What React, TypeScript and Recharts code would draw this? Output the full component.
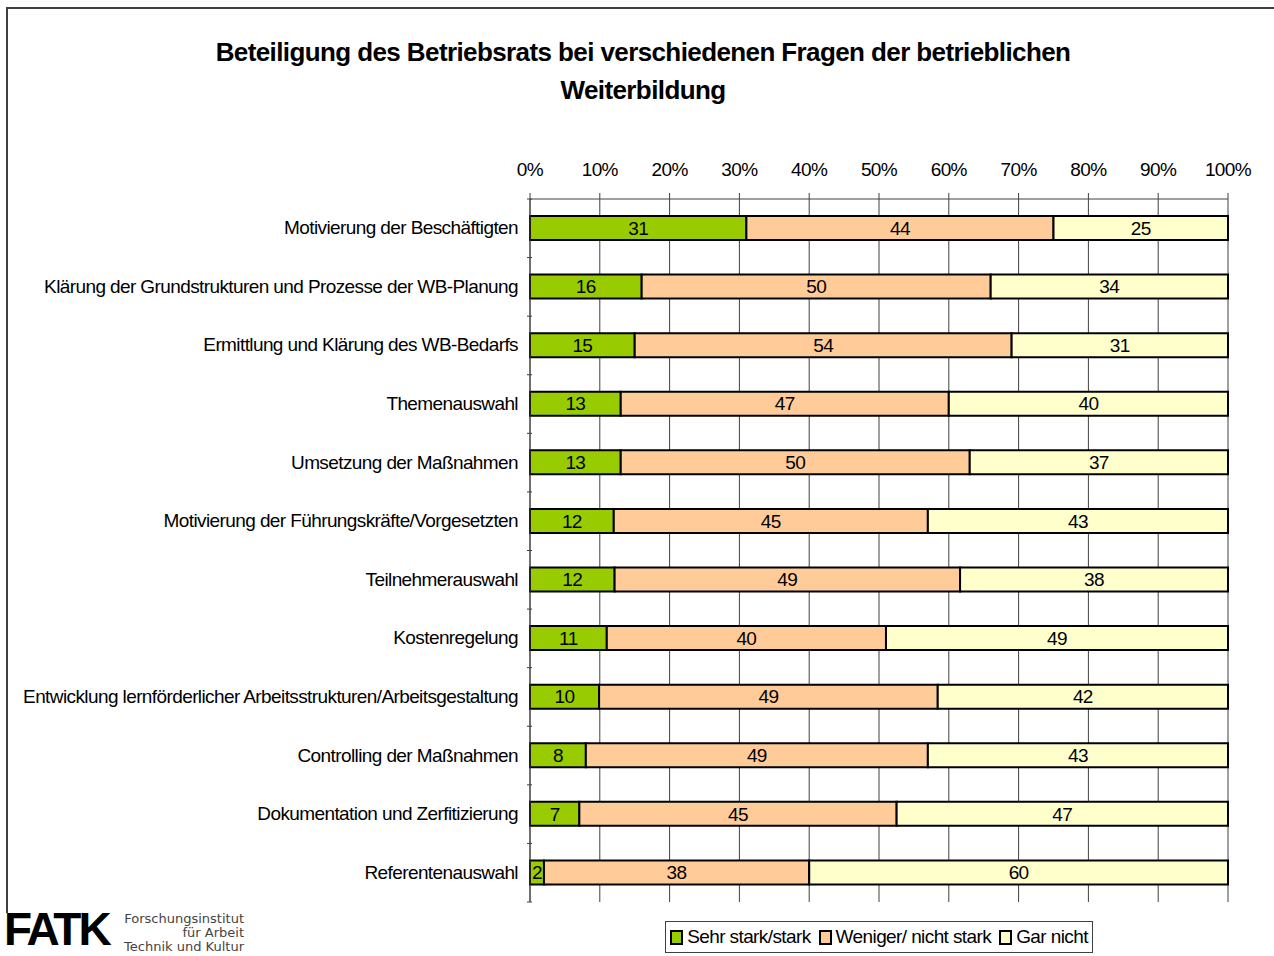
import React from "react";
import { BarChart, Bar, XAxis, YAxis, CartesianGrid, LabelList } from "recharts";

const categories = [
  "Motivierung der Beschäftigten",
  "Klärung der Grundstrukturen und Prozesse der WB-Planung",
  "Ermittlung und Klärung des WB-Bedarfs",
  "Themenauswahl",
  "Umsetzung der Maßnahmen",
  "Motivierung der Führungskräfte/Vorgesetzten",
  "Teilnehmerauswahl",
  "Kostenregelung",
  "Entwicklung lernförderlicher Arbeitsstrukturen/Arbeitsgestaltung",
  "Controlling der Maßnahmen",
  "Dokumentation und Zerfitizierung",
  "Referentenauswahl",
];
const sehrStark = [31, 16, 15, 13, 13, 12, 12, 11, 10, 8, 7, 2];
const wenigerStark = [44, 50, 54, 47, 50, 45, 49, 40, 49, 49, 45, 38];
const garNicht = [25, 34, 31, 40, 37, 43, 38, 49, 42, 43, 47, 60];
const percentTicks = [0, 0.1, 0.2, 0.3, 0.4, 0.5, 0.6, 0.7, 0.8, 0.9, 1];

const series = [
  { key: "sehr", name: "Sehr stark/stark", color: "#99CC00" },
  { key: "weniger", name: "Weniger/ nicht stark", color: "#FFCC99" },
  { key: "gar", name: "Gar nicht", color: "#FFFFCC" },
];

const data = categories.map((name, i) => ({
  name,
  sehr: sehrStark[i],
  weniger: wenigerStark[i],
  gar: garNicht[i],
}));

const font = "'Liberation Sans', Arial, sans-serif";

function CategoryTick(props: any) {
  const { x, y, payload, index } = props;
  const half = payload?.offset ?? 29.3;
  return (
    <g>
      <line x1={x + 5} x2={x + 10} y1={y - half} y2={y - half} stroke="#404040" />
      {index === categories.length - 1 && (
        <line x1={x + 5} x2={x + 10} y1={y + half} y2={y + half} stroke="#404040" />
      )}
      <text
        x={x - 4}
        y={y}
        dy={6}
        textAnchor="end"
        fontSize={19}
        letterSpacing={-0.6}
        fontFamily={font}
        fill="#000"
      >
        {payload.value}
      </text>
    </g>
  );
}

export default function App() {
  return (
    <div
      style={{
        position: "absolute",
        left: 0,
        top: 0,
        width: 1274,
        height: 956,
        background: "#fff",
        fontFamily: font,
        overflow: "hidden",
      }}
    >
      <div
        style={{
          position: "absolute",
          left: 6,
          top: 7,
          width: 1280,
          height: 904,
          borderTop: "2px solid #404040",
          borderLeft: "2px solid #404040",
        }}
      />
      <div
        style={{
          position: "absolute",
          left: 0,
          top: 33,
          width: 1286,
          textAlign: "center",
          fontWeight: "bold",
          fontSize: 26,
          letterSpacing: -0.6,
          lineHeight: "38px",
          color: "#000",
        }}
      >
        Beteiligung des Betriebsrats bei verschiedenen Fragen der betrieblichen
        <br />
        Weiterbildung
      </div>
      <div style={{ position: "absolute", left: 0, top: 0 }}>
        <BarChart
          width={1274}
          height={956}
          data={data}
          layout="vertical"
          stackOffset="expand"
          barSize={24}
          margin={{ top: 150, right: 46, bottom: 54, left: 10 }}
        >
          <CartesianGrid horizontal={false} stroke="#404040" strokeOpacity={1} />
          <XAxis
            type="number"
            orientation="top"
            domain={[0, 1]}
            ticks={percentTicks}
            tickFormatter={(v: number) => `${Math.round(v * 100)}%`}
            height={49}
            axisLine={{ stroke: "#404040" }}
            tickLine={{ stroke: "#404040" }}
            tickSize={6}
            tickMargin={17}
            tick={{ fontSize: 19, fill: "#000", fontFamily: font, letterSpacing: -0.6 }}
            interval={0}
          />
          <YAxis
            type="category"
            dataKey="name"
            width={520}
            axisLine={{ stroke: "#404040" }}
            tickLine={false}
            tick={<CategoryTick />}
            interval={0}
          />
          {series.map((s) => (
            <Bar
              key={s.key}
              dataKey={s.key}
              name={s.name}
              stackId="a"
              fill={s.color}
              stroke="#000"
              strokeWidth={2}
              isAnimationActive={false}
            >
              <LabelList
                dataKey={s.key}
                position="center"
                fill="#000"
                fontSize={19}
                fontFamily={font}
                letterSpacing={-0.6}
              />
            </Bar>
          ))}
        </BarChart>
      </div>
      <div
        style={{
          position: "absolute",
          left: 665,
          top: 921,
          width: 428,
          height: 32,
          border: "1px solid #404040",
          boxSizing: "border-box",
          display: "flex",
          alignItems: "center",
          justifyContent: "center",
          fontSize: 19,
          letterSpacing: -0.6,
          gap: 8,
          color: "#000",
        }}
      >
        {series.map((s) => (
          <span key={s.key} style={{ display: "flex", alignItems: "center" }}>
            <span
              style={{
                display: "inline-block",
                width: 9,
                height: 11,
                background: s.color,
                border: "2px solid #000",
                marginRight: 4,
              }}
            />
            {s.name}
          </span>
        ))}
      </div>
      <div
        style={{
          position: "absolute",
          left: 4,
          top: 904,
          fontSize: 46,
          fontWeight: "bold",
          letterSpacing: -3,
          lineHeight: "50px",
          color: "#000",
        }}
      >
        FATK
      </div>
      <div
        style={{
          position: "absolute",
          left: 110,
          top: 912,
          width: 134,
          textAlign: "right",
          fontFamily: "'DejaVu Sans', sans-serif",
          fontSize: 13,
          lineHeight: "14px",
          color: "#444",
        }}
      >
        Forschungsinstitut
        <br />
        für Arbeit
        <br />
        Technik und Kultur
      </div>
    </div>
  );
}
